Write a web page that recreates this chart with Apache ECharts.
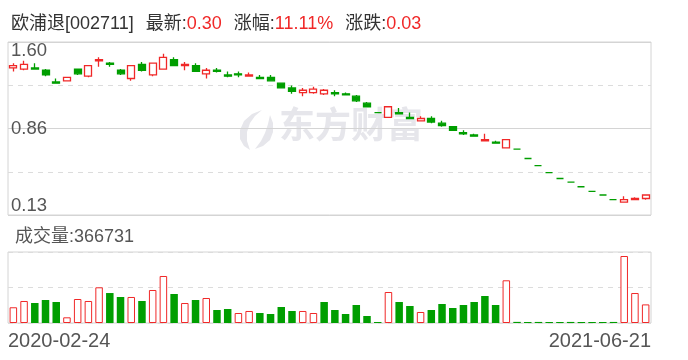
<!DOCTYPE html>
<html><head><meta charset="utf-8">
<script src="https://cdn.jsdelivr.net/npm/echarts@6/dist/echarts.min.js"></script>
<style>html,body{margin:0;padding:0;background:#fff}#c{width:688px;height:360px}</style>
</head><body><div id="c"></div>
<script>
// ---- header values ----
const stockName = '欧浦退';
const stockCode = '002711';
const latestPrice = '0.30';
const changePct = '11.11%';
const changeAmt = '0.03';
const volumeTitle = '成交量';
const latestVolume = '366731';

// ---- tick labels ----
const xLabels = ['2020-02-24', '2021-06-21'];
const yLabels = ['0.13', '0.86', '1.60'];
const yTickValues = [0.13, 0.865, 1.60];
const priceMin = 0.13, priceMax = 1.60;
const volumeMax = 1400000;

// ---- candles (weekly) ----
const opens  = [1.38,1.37,1.38,1.36,1.26,1.27,1.37,1.31,1.44,1.42,1.36,1.29,1.41,1.32,1.37,1.45,1.40,1.40,1.33,1.36,
                1.32,1.33,1.31,1.30,1.30,1.25,1.21,1.17,1.17,1.16,1.17,1.16,1.14,1.08,1.00,0.96,1.00,0.96,0.93,0.95,
                0.91,0.88,0.83,0.81,0.76,0.75,0.70,0.69,0.61,0.55,0.49,0.44,0.41,0.37,0.33,0.30,0.26,0.24,0.26,0.27];
const closes = [1.40,1.41,1.37,1.32,1.25,1.30,1.33,1.40,1.45,1.41,1.33,1.40,1.36,1.42,1.47,1.40,1.41,1.35,1.36,1.35,
                1.31,1.32,1.32,1.29,1.27,1.21,1.18,1.19,1.20,1.19,1.16,1.15,1.10,1.05,1.00,1.05,0.99,0.95,0.95,0.92,
                0.89,0.85,0.82,0.80,0.77,0.74,0.77,0.69,0.61,0.55,0.49,0.44,0.41,0.37,0.33,0.30,0.26,0.26,0.27,0.30];
const lows   = [1.35,1.36,1.37,1.31,1.25,1.27,1.32,1.30,1.39,1.39,1.32,1.27,1.35,1.31,1.37,1.40,1.36,1.35,1.29,1.34,
                1.30,1.30,1.31,1.29,1.27,1.21,1.16,1.14,1.16,1.15,1.14,1.15,1.09,1.05,1.00,0.96,0.99,0.95,0.93,0.91,
                0.88,0.85,0.81,0.80,0.76,0.74,0.70,0.69,0.61,0.55,0.49,0.44,0.41,0.37,0.33,0.30,0.26,0.24,0.26,0.26];
const highs  = [1.42,1.44,1.42,1.37,1.29,1.30,1.37,1.40,1.47,1.43,1.37,1.40,1.43,1.42,1.50,1.47,1.43,1.42,1.38,1.38,
                1.35,1.35,1.34,1.32,1.32,1.25,1.23,1.21,1.22,1.20,1.19,1.17,1.15,1.09,1.00,1.05,1.04,1.00,0.97,0.97,
                0.93,0.88,0.85,0.82,0.82,0.76,0.77,0.69,0.61,0.55,0.49,0.44,0.41,0.37,0.33,0.30,0.26,0.29,0.28,0.30];
const volumes = [310000,434000,394000,453000,414000,112000,473000,434000,704000,591000,
                 513000,513000,434000,651000,927000,572000,394000,453000,493000,256000,
                 276000,197000,237000,197000,177000,315000,237000,237000,197000,414000,
                 256000,177000,355000,138000,20000,611000,414000,335000,217000,256000,
                 375000,296000,355000,414000,532000,355000,842000,22000,20000,21000,
                 19000,20000,21000,20000,19000,20000,21000,1321000,591000,366731];

const RED = '#f02828', GREEN = '#009e00';
const FONT = '"Liberation Sans", "Noto Sans CJK SC", sans-serif';
const WM = '#e6e6eb';

const cats = opens.map((_, i) => i);
const candleData = opens.map((o, i) => [o, closes[i], lows[i], highs[i]]);
const volData = volumes.map((v, i) => {
  const prev = i > 0 ? closes[i - 1] : opens[i];
  const up = closes[i] >= prev;
  return { value: v, itemStyle: up ? { color: '#fff', borderColor: RED, borderWidth: 1 } : { color: GREEN } };
});

const chart = echarts.init(document.getElementById('c'), null, { renderer: 'canvas' });
chart.setOption({
  animation: false,
  backgroundColor: '#fff',
  textStyle: { fontFamily: FONT },
  title: [
    {
      left: 6, top: 10,
      text: `{n|${stockName}[${stockCode}]}{g|}{n|最新:}{v|${latestPrice}}{g|}{n|涨幅:}{v|${changePct}}{g|}{n|涨跌:}{v|${changeAmt}}`,
      textStyle: {
        fontWeight: 'normal',
        rich: {
          n: { color: '#333', fontSize: 18, fontWeight: 'normal', fontFamily: FONT },
          v: { color: RED, fontSize: 18, fontWeight: 'normal', fontFamily: FONT },
          g: { width: 12 }
        }
      }
    },
    {
      left: 10, top: 223,
      text: `${volumeTitle}:${latestVolume}`,
      textStyle: { color: '#555', fontSize: 18, fontWeight: 'normal', fontFamily: FONT }
    }
  ],
  graphic: [
    { type: 'polygon', z: 0, silent: true,
      shape: { points: [[262,110],[252,114],[244,121],[240,130],[240,139],[244,146],[250,150],[247,141],[247,132],[250,123],[255,116]] },
      style: { fill: WM } },
    { type: 'polygon', z: 0, silent: true,
      shape: { points: [[270,115],[273,123],[273,132],[270,140],[263,146],[255,149],[261,141],[265,133],[268,124]] },
      style: { fill: WM } },
    { type: 'text', z: 0, silent: true, left: 279, top: 106,
      style: { text: '东方财富', fill: WM, font: 'bold 36px "Noto Sans CJK SC"' } }
  ],
  grid: [
    { left: 8, top: 42, width: 643, height: 173, show: true, borderColor: '#d4d4d4', borderWidth: 1, backgroundColor: 'transparent' },
    { left: 8, top: 252, width: 643, height: 71, show: true, borderColor: '#d4d4d4', borderWidth: 1 }
  ],
  xAxis: [
    { type: 'category', gridIndex: 0, data: cats, boundaryGap: true,
      axisLine: { show: false }, axisTick: { show: false }, axisLabel: { show: false }, splitLine: { show: false } },
    { type: 'category', gridIndex: 1, data: cats, boundaryGap: true,
      axisLine: { show: false }, axisTick: { show: false }, axisLabel: { show: false }, splitLine: { show: false } },
    { type: 'category', gridIndex: 1, data: xLabels, boundaryGap: false, position: 'bottom',
      axisLine: { show: false }, axisTick: { show: false }, splitLine: { show: false },
      axisLabel: { show: true, interval: 0, color: '#555', fontSize: 20, margin: 8, fontFamily: FONT,
        alignMinLabel: 'left', alignMaxLabel: 'right' } }
  ],
  yAxis: [
    { type: 'value', gridIndex: 0, min: priceMin, max: priceMax, scale: true,
      axisLine: { show: false }, axisTick: { show: false }, splitLine: { show: false },
      axisLabel: {
        inside: true, margin: 3, color: '#555', fontSize: 18.5, fontFamily: FONT,
        customValues: yTickValues,
        verticalAlignMinLabel: 'bottom', verticalAlignMaxLabel: 'top',
        formatter: (v) => {
          let bi = 0, bd = Infinity;
          yTickValues.forEach((t, i) => { const d = Math.abs(t - v); if (d < bd) { bd = d; bi = i; } });
          return yLabels[bi];
        }
      } },
    { type: 'value', gridIndex: 0, min: 0, max: 4, interval: 1,
      axisLine: { show: false }, axisTick: { show: false }, axisLabel: { show: false },
      splitLine: { show: true, lineStyle: { color: '#dcdcdc', type: [5, 5], width: 1 } } },
    { type: 'value', gridIndex: 0, min: 0, max: 2, interval: 1,
      axisLine: { show: false }, axisTick: { show: false }, axisLabel: { show: false },
      splitLine: { show: true, lineStyle: { color: '#d4d4d4', type: 'solid', width: 1 } } },
    { type: 'value', gridIndex: 1, min: 0, max: volumeMax, interval: volumeMax / 2,
      axisLine: { show: false }, axisTick: { show: false }, axisLabel: { show: false },
      splitLine: { show: true, lineStyle: { color: '#dcdcdc', type: [5, 5], width: 1 } } }
  ],
  series: [
    {
      type: 'candlestick', xAxisIndex: 0, yAxisIndex: 0, data: candleData, barWidth: 7.5, z: 5,
      itemStyle: { color: '#fff', color0: GREEN, borderColor: RED, borderColor0: GREEN, borderWidth: 1.3 }
    },
    {
      type: 'bar', xAxisIndex: 1, yAxisIndex: 3, data: volData, barWidth: 7.5, barMinHeight: 1, z: 5
    }
  ]
});
</script>
</body></html>
